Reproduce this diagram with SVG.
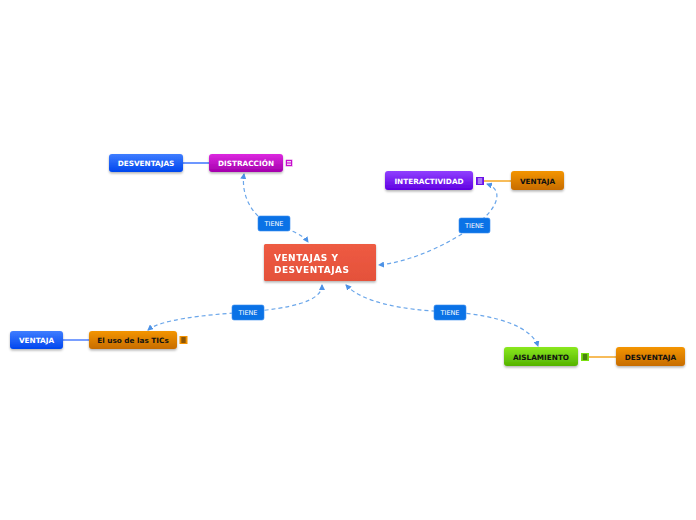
<svg xmlns="http://www.w3.org/2000/svg" width="696" height="520" viewBox="0 0 696 520">
<defs>
<linearGradient id="gBlue" x1="0" y1="0" x2="0" y2="1"><stop offset="0" stop-color="#3f7dff"/><stop offset="1" stop-color="#0046ee"/></linearGradient>
<linearGradient id="gMag" x1="0" y1="0" x2="0" y2="1"><stop offset="0" stop-color="#dc28e0"/><stop offset="1" stop-color="#a400ac"/></linearGradient>
<linearGradient id="gPur" x1="0" y1="0" x2="0" y2="1"><stop offset="0" stop-color="#9040ff"/><stop offset="1" stop-color="#6000e2"/></linearGradient>
<linearGradient id="gOr" x1="0" y1="0" x2="0" y2="1"><stop offset="0" stop-color="#f49500"/><stop offset="1" stop-color="#c76c00"/></linearGradient>
<linearGradient id="gGr" x1="0" y1="0" x2="0" y2="1"><stop offset="0" stop-color="#8ae81e"/><stop offset="1" stop-color="#55b300"/></linearGradient>
<linearGradient id="gRed" x1="0" y1="0" x2="0" y2="1"><stop offset="0" stop-color="#ee5b43"/><stop offset="1" stop-color="#e4513a"/></linearGradient>
<filter id="sh" x="-10%" y="-20%" width="120%" height="160%"><feDropShadow dx="0" dy="1.5" stdDeviation="1.2" flood-color="#000" flood-opacity="0.3"/></filter>
<marker id="arr" viewBox="0 0 6 6" refX="5" refY="3" markerWidth="6" markerHeight="6" orient="auto-start-reverse" markerUnits="userSpaceOnUse"><path d="M0,0 L6,3 L0,6 z" fill="#4d92e6"/></marker>
</defs>
<style>
.conn{fill:none;stroke:#6aa6ea;stroke-width:1.2;stroke-dasharray:4 3;marker-start:url(#arr);marker-end:url(#arr)}
.node{filter:url(#sh)}
.t{font-family:"DejaVu Sans",Verdana,sans-serif;font-weight:bold;font-size:7.3px;text-anchor:middle}
.w{fill:#fff}
.k{fill:#111}
.lab rect{fill:#0a72e6;stroke:#3a8df0;stroke-width:0.6}
.lab text{font-family:"DejaVu Sans",Verdana,sans-serif;font-size:6.5px;fill:#fff;text-anchor:middle}
.ln{stroke-width:1.5;fill:none}
</style>
<rect width="696" height="520" fill="#fff"/>
<g id="connectors">
<line class="ln" x1="183" y1="163" x2="209" y2="163" stroke="#3d74ff"/>
<line class="ln" x1="484" y1="181" x2="511" y2="181" stroke="#f5a623"/>
<line class="ln" x1="63" y1="340" x2="89" y2="340" stroke="#4d7fff"/>
<line class="ln" x1="589" y1="357" x2="616" y2="357" stroke="#f5a623"/>
<path class="conn" d="M244,174 C240,200 258,222 274,225 C290,229 303,235 308,242"/>
<path class="conn" d="M487,184 C505,190 497,210 475,225 C450,244 410,262 379,265"/>
<path class="conn" d="M148,330 C160,320 200,315 248,312 C290,308 322,302 322,285"/>
<path class="conn" d="M346,285 C362,302 400,310 450,312 C500,315 532,328 538,346"/>
</g>
<g id="labels">
<g class="lab"><rect x="258" y="216" width="32" height="15" rx="2"/><text x="274" y="226">TIENE</text></g>
<g class="lab"><rect x="459" y="218" width="31" height="15" rx="2"/><text x="474.5" y="228">TIENE</text></g>
<g class="lab"><rect x="232" y="305" width="32" height="15" rx="2"/><text x="248" y="315">TIENE</text></g>
<g class="lab"><rect x="434" y="305" width="32" height="15" rx="2"/><text x="450" y="315">TIENE</text></g>
</g>
<g id="central" class="node"><rect x="264" y="244" width="112" height="37" rx="1.5" fill="url(#gRed)"/><text font-family="DejaVu Sans,Verdana,sans-serif" font-weight="bold" font-size="9px" letter-spacing="0.5" fill="#fff"><tspan x="274" y="261">VENTAJAS Y</tspan><tspan x="274" y="273">DESVENTAJAS</tspan></text></g>
<g id="distraccion"><rect class="node" x="209" y="154" width="74" height="18" rx="3" fill="url(#gMag)"/><text class="t w" x="246" y="166">DISTRACCIÓN</text>
<rect x="285.5" y="159.5" width="7" height="7" fill="#c60ccc" stroke="#fff" stroke-width="0.5"/><path d="M287,161.5h4M287,163h4M287,164.5h4" stroke="#fff" stroke-width="0.8"/></g>
<g id="desventajas"><rect class="node" x="109" y="154" width="74" height="18" rx="3" fill="url(#gBlue)"/><text class="t w" x="146" y="166">DESVENTAJAS</text></g>
<g id="interactividad"><rect class="node" x="385" y="171" width="88" height="19" rx="3" fill="url(#gPur)"/><text class="t w" x="429" y="183.5">INTERACTIVIDAD</text>
<rect x="476" y="177" width="8" height="8" fill="#6a10e8"/><path d="M477.8,179h4.4M477.8,181h4.4M477.8,183h4.4" stroke="#fff" stroke-width="0.9"/></g>
<g id="ventaja1"><rect class="node" x="511" y="171" width="53" height="19" rx="3" fill="url(#gOr)"/><text class="t k" x="537.5" y="183.5">VENTAJA</text></g>
<g id="eluso"><rect class="node" x="89" y="331" width="88" height="18" rx="3" fill="url(#gOr)"/><text class="t k" x="133" y="343">El uso de las TICs</text>
<rect x="179.5" y="336" width="8" height="8" fill="#f29100"/><path d="M181.3,338h4.4M181.3,340h4.4M181.3,342h4.4" stroke="#111" stroke-width="0.9"/></g>
<g id="ventaja2"><rect class="node" x="10" y="331" width="53" height="18" rx="3" fill="url(#gBlue)"/><text class="t w" x="36.5" y="343">VENTAJA</text></g>
<g id="aislamiento"><rect class="node" x="504" y="347" width="74" height="19" rx="3" fill="url(#gGr)"/><text class="t k" x="541" y="359.5">AISLAMIENTO</text>
<rect x="581" y="353" width="8" height="8" fill="#7ae010"/><path d="M582.8,355h4.4M582.8,357h4.4M582.8,359h4.4" stroke="#111" stroke-width="0.9"/></g>
<g id="desventaja"><rect class="node" x="616" y="347" width="69" height="19" rx="3" fill="url(#gOr)"/><text class="t k" x="650.5" y="359.5">DESVENTAJA</text></g>
</svg>
